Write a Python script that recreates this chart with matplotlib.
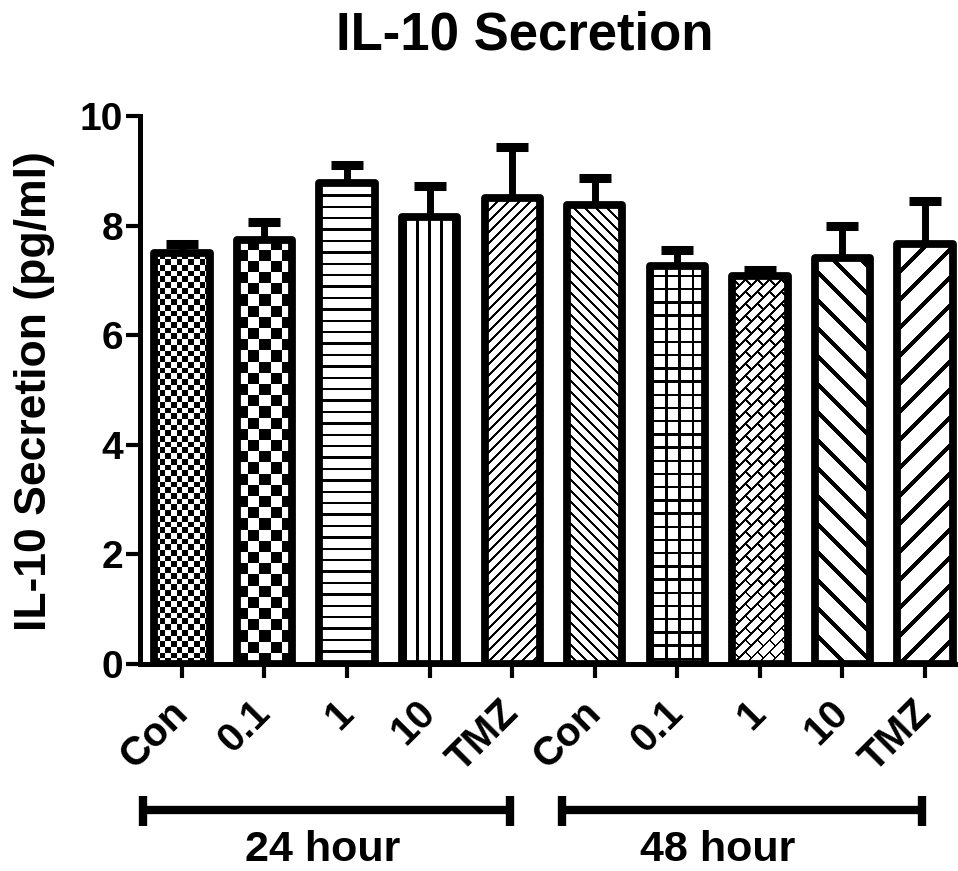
import numpy as np
import matplotlib
matplotlib.use('Agg')
import matplotlib.pyplot as plt
from matplotlib.transforms import blended_transform_factory

# ---- data ----
categories = ['Con', '0.1', '1', '10', 'TMZ', 'Con', '0.1', '1', '10', 'TMZ']
values = [7.50, 7.74, 8.78, 8.16, 8.50, 8.38, 7.26, 7.08, 7.41, 7.66]
errors = [0.16, 0.33, 0.33, 0.57, 0.94, 0.48, 0.30, 0.11, 0.59, 0.78]
group_names = ['24 hour', '48 hour']
yticks = [0, 2, 4, 6, 8, 10]
fills = ['checker_fine', 'checker_big', 'hlines', 'vlines', 'diag_fwd',
         'diag_back', 'grid', 'brick', 'wide_back', 'wide_fwd']

plt.rcParams['font.family'] = ['Liberation Sans', 'DejaVu Sans']
plt.rcParams['font.weight'] = 'bold'

W_PX, H_PX = 958, 871
fig = plt.figure(figsize=(W_PX / 100, H_PX / 100), dpi=100)
ax = fig.add_axes([140 / W_PX, 207 / H_PX, 818 / W_PX, 548 / H_PX])
ax.set_xlim(-0.508, 9.40)
ax.set_ylim(0, 10)

x = np.arange(len(values))
bars = ax.bar(x, values, width=0.67, facecolor='none', edgecolor='black',
              linewidth=5.6, zorder=3)
for b in bars:
    b.set_joinstyle('round')


def pattern_mask(name, u, v):
    # u: pixels to the right, v: pixels upward (relative to bar corner)
    if name == 'checker_fine':
        s = 5.7
        return ((np.floor(u / s) + np.floor(v / s)) % 2) == 0
    if name == 'checker_big':
        s = 11.2
        return ((np.floor(u / s) + np.floor(v / s)) % 2) == 0
    if name == 'hlines':
        return (v % 11.4) < 2.4
    if name == 'vlines':
        return ((u - 14.4) % 11.9) < 2.4
    if name == 'diag_fwd':      # '/'
        return ((u - v) % 11) < 3.0
    if name == 'diag_back':     # '\'
        return ((u + v) % 11) < 3.0
    if name == 'grid':
        return ((u - 2) % 13.2 < 2.4) | ((v - 4) % 13.2 < 2.4)
    if name == 'brick':
        p = (u + v) / np.sqrt(2)     # along '/'
        q = (u - v) / np.sqrt(2)     # across '/'
        r = np.floor(q / 8.5)
        lines = (q % 8.5) < 2.0
        conn = ((p + (r % 2) * 8.5) % 17) < 2.0
        return lines | conn
    if name == 'wide_back':     # '\'
        return ((u + v) % 28) < 5.5
    if name == 'wide_fwd':      # '/'
        return ((u - v) % 28) < 5.5
    return np.zeros_like(u, dtype=bool)


for b, name in zip(bars, fills):
    x0, w, h = b.get_x(), b.get_width(), b.get_height()
    (px0, py0), (px1, py1) = ax.transData.transform([(x0, 0), (x0 + w, h)])
    Wp = int(np.ceil(px1 - px0))
    Hp = int(np.ceil(py1 - py0))
    u, v = np.meshgrid(np.arange(Wp) + 0.5, np.arange(Hp) + 0.5)
    img = np.where(pattern_mask(name, u, v), 0.0, 1.0)
    im = ax.imshow(img, cmap='gray', vmin=0, vmax=1, origin='lower',
                   extent=(x0, x0 + w, 0, h), interpolation='nearest',
                   aspect='auto', zorder=2)
    im.set_clip_path(b)

eb = ax.errorbar(x, values, yerr=[np.zeros(len(values)), errors], fmt='none',
                 ecolor='black', elinewidth=5, capsize=11.5, capthick=6.5,
                 zorder=2.5)
caplines = eb[1]
if len(caplines) == 2:
    caplines[0].set_visible(False)

ax.set_xlim(-0.508, 9.40)
ax.set_ylim(0, 10)

for s in ['top', 'right']:
    ax.spines[s].set_visible(False)
for s in ['left', 'bottom']:
    ax.spines[s].set_linewidth(3.6)

ax.set_yticks(yticks)
ax.set_yticklabels([str(t) for t in yticks], fontsize=28, fontweight='bold')
ax.tick_params(axis='y', width=3, length=10, pad=2)
ax.set_xticks(x)
ax.set_xticklabels(categories, rotation=45, ha='right', va='center',
                   rotation_mode='anchor', fontsize=29, fontweight='bold')
ax.tick_params(axis='x', width=3, length=10, pad=21)

fig.text(524.5 / W_PX, 1 - 50 / H_PX, 'IL-10 Secretion', ha='center',
         va='baseline', fontsize=38, fontweight='bold')
fig.text(35 / W_PX, 1 - 391 / H_PX, 'IL-10 Secretion (pg/ml)', ha='center',
         va='center', rotation=90, fontsize=32, fontweight='bold')

trans = blended_transform_factory(ax.transData, fig.transFigure)
group_spans = [(-0.47, 3.97), (4.60, 8.97)]
group_label_x = [1.70, 6.49]
y_line = 1 - 810 / H_PX
y_cap0, y_cap1 = 1 - 796 / H_PX, 1 - 826 / H_PX
for (a, bnd), lx, name in zip(group_spans, group_label_x, group_names):
    ax.plot([a, bnd], [y_line, y_line], color='black', lw=6, transform=trans,
            clip_on=False, solid_capstyle='butt')
    for xe in (a, bnd):
        ax.plot([xe, xe], [y_cap0, y_cap1], color='black', lw=6,
                transform=trans, clip_on=False, solid_capstyle='butt')
    ax.text(lx, 1 - 870 / H_PX, name, transform=trans, ha='center',
            va='bottom', fontsize=31, fontweight='bold', clip_on=False)

fig.savefig('out.png', dpi=100, facecolor='white')
